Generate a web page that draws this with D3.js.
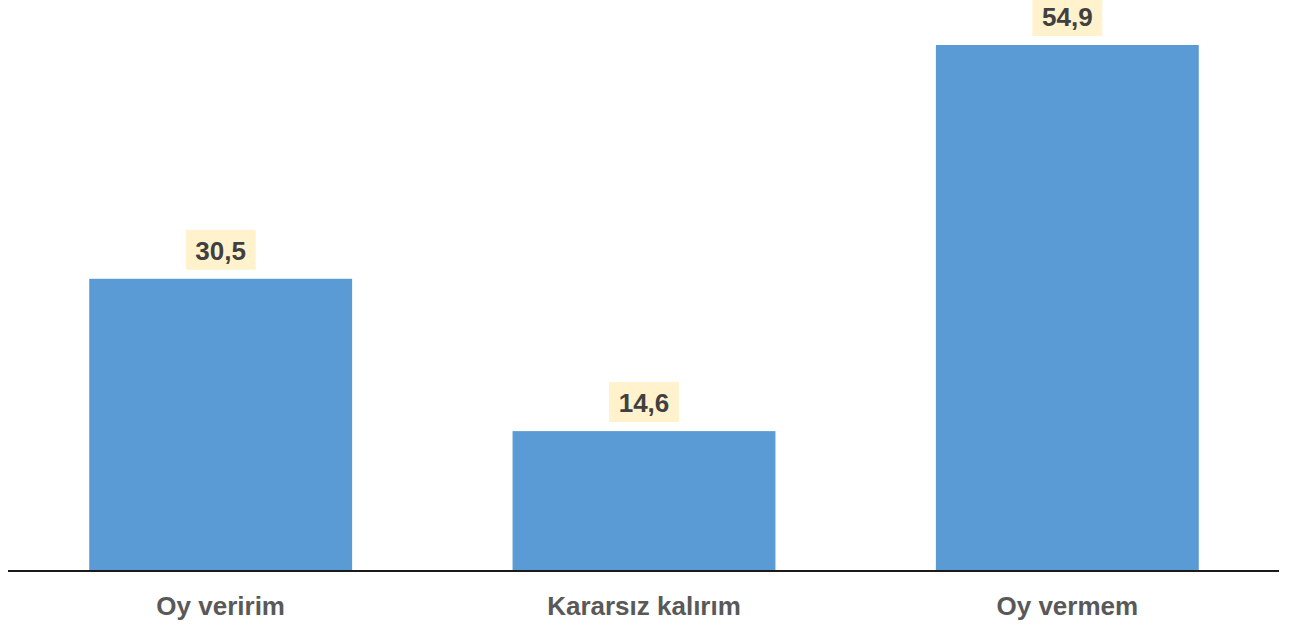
<!DOCTYPE html>
<html><head><meta charset="utf-8">
<script src="https://cdn.jsdelivr.net/npm/d3@7"></script>
<style>body{margin:0;background:#fff}</style>
</head><body>
<svg id="c" width="1292" height="629"></svg>
<script>
const categories = ["Oy veririm", "Kararsız kalırım", "Oy vermem"];
const values = [30.5, 14.6, 54.9];
const labels = ["30,5", "14,6", "54,9"];

(function(){
const svg = d3.select("#c");
const left = 9, right = 1279, baseline = 571, plotTop = 45;
const x = d3.scaleBand().domain(categories).range([left, right]).paddingInner(0.379).paddingOuter(0.1895);
const y = d3.scaleLinear().domain([0, 54.9]).range([baseline, plotTop]);

svg.selectAll("rect.bar").data(values).enter().append("rect")
  .attr("class","bar")
  .attr("x",(d,i)=>x(categories[i]))
  .attr("width",x.bandwidth())
  .attr("y",d=>y(d))
  .attr("height",d=>baseline-y(d))
  .attr("fill","#5b9bd5");

svg.append("line").attr("x1",8).attr("x2",1279).attr("y1",baseline).attr("y2",baseline)
  .attr("stroke","#1a1a1a").attr("stroke-width",2);

const g = svg.selectAll("g.lab").data(values).enter().append("g")
  .attr("transform",(d,i)=>`translate(${x(categories[i])+x.bandwidth()/2},${y(d)})`);
g.append("rect").attr("x",-35).attr("y",-49).attr("width",70).attr("height",40).attr("fill","#fff2cc");
g.append("text").attr("text-anchor","middle").attr("y",-19)
  .attr("font-family","Liberation Sans, Arial, sans-serif").attr("font-weight","bold")
  .attr("font-size",26).attr("fill","#404040").text((d,i)=>labels[i]);

svg.selectAll("text.cat").data(categories).enter().append("text")
  .attr("class","cat")
  .attr("x",d=>x(d)+x.bandwidth()/2).attr("y",615)
  .attr("text-anchor","middle")
  .attr("font-family","Liberation Sans, Arial, sans-serif").attr("font-weight","bold")
  .attr("font-size",26).attr("fill","#595959").text(d=>d);
})();
</script>
</body></html>
